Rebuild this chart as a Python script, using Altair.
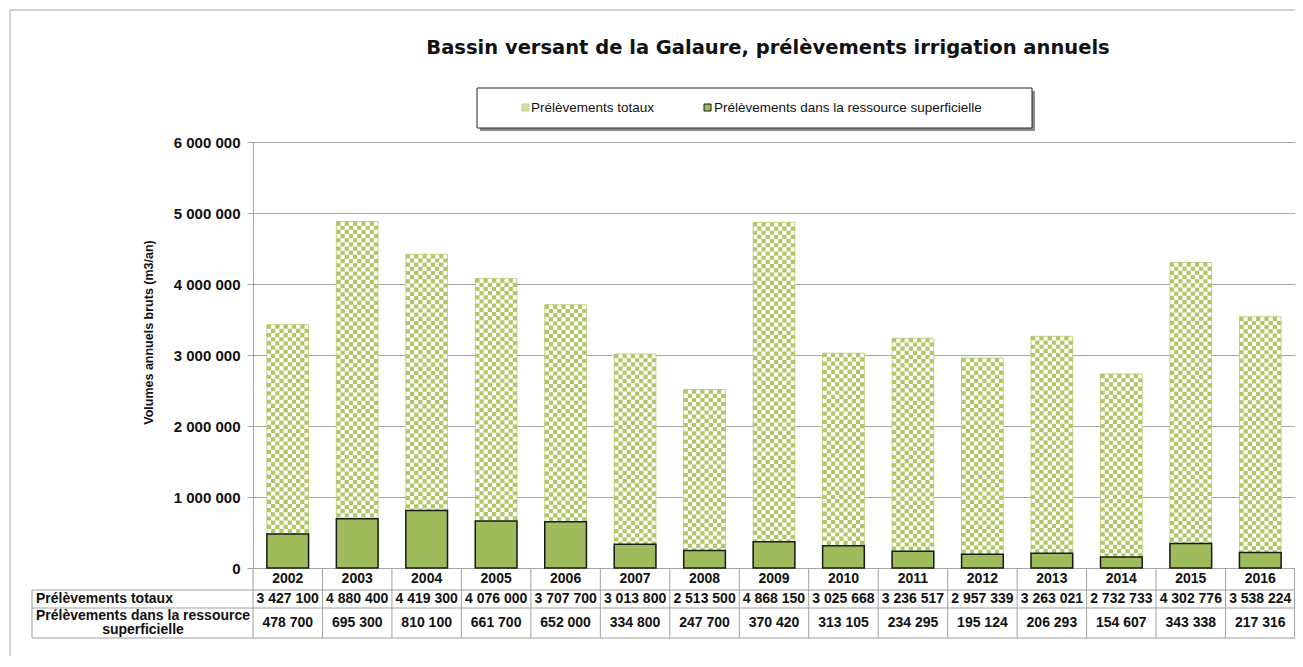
import altair as alt
import pandas as pd

# ---- data ----
years = [2002, 2003, 2004, 2005, 2006, 2007, 2008, 2009, 2010, 2011, 2012, 2013, 2014, 2015, 2016]
totaux = [3427100, 4880400, 4419300, 4076000, 3707700, 3013800, 2513500, 4868150,
          3025668, 3236517, 2957339, 3263021, 2732733, 4302776, 3538224]
superficielle = [478700, 695300, 810100, 661700, 652000, 334800, 247700, 370420,
                 313105, 234295, 195124, 206293, 154607, 343338, 217316]
y_ticks = [0, 1000000, 2000000, 3000000, 4000000, 5000000, 6000000]
series_names = ["Prélèvements totaux", "Prélèvements dans la ressource superficielle"]
row_labels = ["Prélèvements totaux", "Prélèvements dans la ressource", "superficielle"]
chart_title = "Bassin versant de la Galaure, prélèvements irrigation annuels"
y_title = "Volumes annuels bruts (m3/an)"


def fmt(v):
    return f"{v:,}".replace(",", " ")


df = pd.DataFrame({
    "year": [str(y) for y in years],
    "idx": list(range(len(years))),
    "totaux": totaux,
    "superficielle": superficielle,
    "tot_lbl": [fmt(v) for v in totaux],
    "sup_lbl": [fmt(v) for v in superficielle],
})
one = pd.DataFrame({"k": [0]})

# ---- layout / style ----
W, H = 1042, 426
FONT = "Liberation Sans"
TITLE_FONT = "DejaVu Sans"
GRID = "#a6a6a6"
TABLE = "#a0a0a0"
CHECK = "#d1df9f"
CHECK_GREEN = "#afc767"
CHECK_STROKE = "#c2d489"
SOLID = "#9fbc5c"
TXT = "#111111"
N_CELLS = 10                      # checker columns inside one bar
BAR_FRAC = 0.6
CELL = W / len(years) * BAR_FRAC / N_CELLS

band_scale = alt.Scale(paddingInner=0, paddingOuter=0)
x_enc = alt.X("year:N", sort=None, scale=band_scale, axis=None)
y_scale = alt.Scale(domain=[0, 6000000], nice=False)

base = alt.Chart(df)

# white body of the "total" bars (carries the y axis)
bars_tot = base.mark_bar(width=alt.RelativeBandSize(BAR_FRAC), fill="white", stroke=CHECK_STROKE,
                         strokeWidth=1).encode(
    x=x_enc,
    y=alt.Y("totaux:Q", scale=y_scale, axis=alt.Axis(
        values=y_ticks, grid=True, gridColor=GRID, gridWidth=1,
        domainColor=GRID, tickColor=GRID, tickSize=6,
        labelFont=FONT, labelFontSize=15, labelFontWeight="bold", labelColor=TXT,
        labelPadding=7,
        labelExpr="replace(replace(format(datum.value, ','), ',', ' '), ',', ' ')",
        title=y_title, titleFont=FONT, titleFontSize=12.5, titleFontWeight="bold",
        titleColor=TXT, titleX=-105, titleY=190, titleAngle=270,
        titleAlign="center", titleBaseline="middle")),
)

# checkerboard texture: dashed columns inside each total bar (own linear x scale over bar slots)
cells = df[["idx", "totaux"]].merge(pd.DataFrame({"col": list(range(N_CELLS))}), how="cross")
cell_frac = BAR_FRAC / N_CELLS
x_cell_scale = alt.Scale(domain=[0, len(years)], nice=False, zero=False)


def checker(parity, offset):
    return alt.Chart(cells).transform_filter(f"datum.col % 2 == {parity}").transform_calculate(
        xpos=f"datum.idx + {(1 - BAR_FRAC) / 2} + {cell_frac} * (datum.col + 0.5)"
    ).mark_rule(
        color=CHECK_GREEN, strokeWidth=CELL + 0.1, strokeDash=[CELL, CELL],
        strokeDashOffset=offset, strokeCap="butt").encode(
        x=alt.X("xpos:Q", scale=x_cell_scale, axis=None),
        y=alt.Y("totaux:Q", scale=y_scale),
        y2=alt.datum(0),
    )


check_even = checker(0, 0)
check_odd = checker(1, CELL)

bars_sup = base.mark_bar(width=alt.RelativeBandSize(BAR_FRAC), color=SOLID, stroke="#1a1a1a",
                         strokeWidth=1.5).encode(
    x=x_enc,
    y=alt.Y("superficielle:Q", scale=y_scale),
)

# ---- table under the chart ----
T1, T2, T3 = H + 22, H + 40, H + 70   # row boundaries below the plot
vlines = base.mark_rule(color=TABLE, strokeWidth=1).encode(
    x=alt.X("year:N", sort=None, bandPosition=0, scale=band_scale, axis=None),
    y=alt.value(H), y2=alt.value(T3),
)
right_line = alt.Chart(one).mark_rule(color=TABLE).encode(
    x=alt.value(W - 0.5), y=alt.value(H), y2=alt.value(T3))
left_line = alt.Chart(one).mark_rule(color=TABLE).encode(
    x=alt.value(-221), y=alt.value(T1), y2=alt.value(T3))
h1 = alt.Chart(one).mark_rule(color=TABLE).encode(
    x=alt.value(-221), x2=alt.value(W), y=alt.value(T1))
h2 = alt.Chart(one).mark_rule(color=TABLE).encode(
    x=alt.value(-221), x2=alt.value(W), y=alt.value(T2))
h3 = alt.Chart(one).mark_rule(color=TABLE).encode(
    x=alt.value(-221), x2=alt.value(W), y=alt.value(T3))

tkw = dict(font=FONT, fontSize=14, fontWeight="bold", color=TXT, baseline="middle")
year_txt = base.mark_text(align="center", **tkw).encode(x=x_enc, y=alt.value(H + 11), text="year:N")
tot_txt = base.mark_text(align="center", **tkw).encode(x=x_enc, y=alt.value(H + 31), text="tot_lbl:N")
sup_txt = base.mark_text(align="center", **tkw).encode(x=x_enc, y=alt.value(H + 55), text="sup_lbl:N")

lab1 = alt.Chart(one).mark_text(align="left", text=row_labels[0], **tkw).encode(
    x=alt.value(-217), y=alt.value(H + 31))
lab2 = alt.Chart(one).mark_text(align="center", text=row_labels[1], **tkw).encode(
    x=alt.value(-110), y=alt.value(H + 48))
lab3 = alt.Chart(one).mark_text(align="center", text=row_labels[2], **tkw).encode(
    x=alt.value(-110), y=alt.value(H + 62))

# ---- title ----
title_txt = alt.Chart(one).mark_text(text=chart_title, font=TITLE_FONT, fontSize=19.5,
                                     fontWeight="bold", color=TXT, align="center",
                                     baseline="middle").encode(
    x=alt.value(515), y=alt.value(-94))

# ---- legend box ----
shadow = alt.Chart(one).mark_rect(color="#8c8c8c").encode(
    x=alt.value(227), x2=alt.value(782), y=alt.value(-51), y2=alt.value(-11))
box = alt.Chart(one).mark_rect(fill="white", stroke="#222222", strokeWidth=1).encode(
    x=alt.value(224), x2=alt.value(779), y=alt.value(-54), y2=alt.value(-14))
sym1 = alt.Chart(one).mark_rect(fill=CHECK, stroke=CHECK_STROKE).encode(
    x=alt.value(269), x2=alt.value(276), y=alt.value(-38), y2=alt.value(-31))
sym2 = alt.Chart(one).mark_rect(fill=SOLID, stroke="#1a1a1a", strokeWidth=1).encode(
    x=alt.value(451), x2=alt.value(458), y=alt.value(-38), y2=alt.value(-31))
lkw = dict(font=FONT, fontSize=13.5, color=TXT, align="left", baseline="middle")
leg1 = alt.Chart(one).mark_text(text=series_names[0], **lkw).encode(x=alt.value(278), y=alt.value(-34))
leg2 = alt.Chart(one).mark_text(text=series_names[1], **lkw).encode(x=alt.value(461), y=alt.value(-34))

# ---- outer frame ----
frame_top = alt.Chart(one).mark_rule(color="#c4c4c4", strokeWidth=1.5).encode(
    x=alt.value(-243), x2=alt.value(W + 20), y=alt.value(-132))
frame_left = alt.Chart(one).mark_rule(color="#c4c4c4", strokeWidth=1.5).encode(
    x=alt.value(-243), y=alt.value(-132), y2=alt.value(H + 120))

chart = alt.layer(
    frame_top, frame_left,
    bars_tot, check_even, check_odd, bars_sup,
    vlines, right_line, left_line, h1, h2, h3,
    year_txt, tot_txt, sup_txt, lab1, lab2, lab3,
    title_txt, shadow, box, sym1, sym2, leg1, leg2,
).resolve_scale(x="independent").properties(
    width=W, height=H,
    autosize=alt.AutoSizeParams(type="none"),
    padding={"left": 245, "top": 134, "right": 0, "bottom": 88},
).configure_view(stroke=None).configure(font=FONT)

chart.save("out.html", embed_options={"renderer": "svg", "actions": False})
